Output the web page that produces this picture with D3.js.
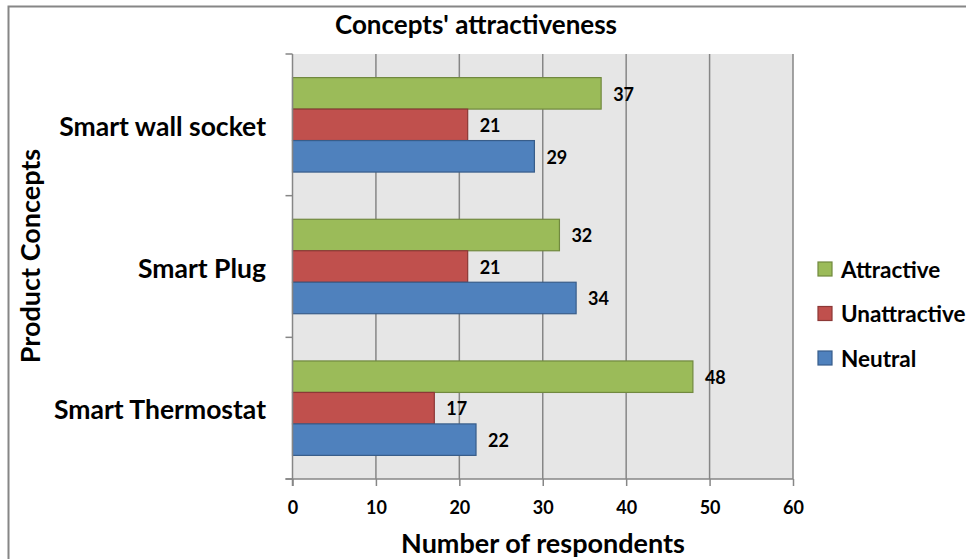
<!DOCTYPE html>
<html>
<head>
<meta charset="utf-8">
<script src="https://cdn.jsdelivr.net/npm/d3@7"></script>
<style>
  body { margin: 0; background: #fff; }
  svg text { font-family: Lato, "Open Sans", sans-serif; font-weight: 700; fill: #000; }
</style>
</head>
<body>
<svg id="chart" width="966" height="559"></svg>
<script>
// Survey results per product concept
const categories = ["Smart wall socket", "Smart Plug", "Smart Thermostat"];
const seriesNames = ["Attractive", "Unattractive", "Neutral"];
const attractive = [37, 32, 48];
const unattractive = [21, 21, 17];
const neutral = [29, 34, 22];
const xTicks = [0, 10, 20, 30, 40, 50, 60];

const fills = ["#9BBB59", "#C0504D", "#4F81BD"];
const strokes = ["#71893F", "#8C3836", "#385D8A"];
const seriesValues = [attractive, unattractive, neutral];

const svg = d3.select("#chart");

// outer chart frame
svg.append("rect")
  .attr("x", 8.5).attr("y", 6.5)
  .attr("width", 1000).attr("height", 600)
  .attr("fill", "none").attr("stroke", "#868686").attr("stroke-width", 2);

const plot = { left: 292.5, right: 793, top: 54, bottom: 479 };

const x = d3.scaleLinear().domain([0, 60]).range([plot.left, plot.right]);
const y = d3.scaleBand().domain(categories).range([plot.top, plot.bottom]);
const inner = d3.scaleBand().domain(seriesNames)
  .range([0, y.bandwidth()]).paddingOuter(0.75).paddingInner(0);

// plot background
svg.append("rect")
  .attr("x", plot.left).attr("y", plot.top)
  .attr("width", plot.right - plot.left).attr("height", plot.bottom - plot.top)
  .attr("fill", "#E6E6E6");

// vertical gridlines
svg.append("g").selectAll("line")
  .data(xTicks.filter(d => d > 0))
  .join("line")
  .attr("x1", d => x(d)).attr("x2", d => x(d))
  .attr("y1", plot.top).attr("y2", plot.bottom)
  .attr("stroke", "#868686").attr("stroke-width", 1.5);

// bars
const rows = [];
categories.forEach((c, i) => seriesNames.forEach((s, j) => {
  rows.push({ cat: c, series: s, value: seriesValues[j][i], j });
}));

svg.append("g").selectAll("rect")
  .data(rows)
  .join("rect")
  .attr("x", x(0))
  .attr("y", d => y(d.cat) + inner(d.series))
  .attr("width", d => x(d.value) - x(0))
  .attr("height", inner.bandwidth())
  .attr("fill", d => fills[d.j])
  .attr("stroke", d => strokes[d.j])
  .attr("stroke-width", 1.2);

// value labels
svg.append("g").selectAll("text")
  .data(rows)
  .join("text")
  .attr("x", d => x(d.value) + 12)
  .attr("y", d => y(d.cat) + inner(d.series) + inner.bandwidth() / 2 + 1)
  .attr("dy", "0.35em")
  .attr("font-size", 18)
  .text(d => d.value);

// x axis
const xAxis = svg.append("g")
  .attr("transform", `translate(0,${plot.bottom})`)
  .call(d3.axisBottom(x).tickValues(xTicks).tickSize(7).tickPadding(15));
xAxis.select(".domain").attr("stroke", "#868686").attr("stroke-width", 1.5)
  .attr("d", `M${plot.left - 7},0H${plot.right}`);
xAxis.selectAll(".tick line").attr("stroke", "#868686").attr("stroke-width", 1.5);
xAxis.selectAll(".tick text").attr("font-size", 18).attr("font-family", "Lato, sans-serif").attr("font-weight", 700).attr("fill", "#000");

// y axis
const yAxis = svg.append("g")
  .attr("transform", `translate(${plot.left},0)`);
yAxis.append("line")
  .attr("x1", 0).attr("x2", 0).attr("y1", plot.top).attr("y2", plot.bottom + 7)
  .attr("stroke", "#868686").attr("stroke-width", 1.5);
const bounds = categories.map(c => y(c)).concat([plot.bottom]);
yAxis.selectAll("line.tk")
  .data(bounds)
  .join("line").attr("class", "tk")
  .attr("x1", -7).attr("x2", 0)
  .attr("y1", d => d).attr("y2", d => d)
  .attr("stroke", "#868686").attr("stroke-width", 1.5);

svg.append("g").selectAll("text")
  .data(categories)
  .join("text")
  .attr("x", 266)
  .attr("y", d => y(d) + y.bandwidth() / 2 + 2)
  .attr("dy", "0.35em")
  .attr("text-anchor", "end")
  .attr("font-size", 26.5)
  .text(d => d);

// titles
svg.append("text")
  .attr("x", 476).attr("y", 25).attr("dy", "0.35em")
  .attr("text-anchor", "middle").attr("font-size", 26)
  .text("Concepts' attractiveness");

svg.append("text")
  .attr("x", 543).attr("y", 544).attr("dy", "0.35em")
  .attr("text-anchor", "middle").attr("font-size", 27)
  .text("Number of respondents");

svg.append("text")
  .attr("transform", "translate(31,256) rotate(-90)")
  .attr("dy", "0.35em")
  .attr("text-anchor", "middle").attr("font-size", 27)
  .text("Product Concepts");

// legend
const legend = svg.append("g").selectAll("g")
  .data(seriesNames)
  .join("g")
  .attr("transform", (d, i) => `translate(818,${262 + i * 44.5})`);
legend.append("rect")
  .attr("width", 14).attr("height", 14)
  .attr("fill", (d, i) => fills[i])
  .attr("stroke", (d, i) => strokes[i]).attr("stroke-width", 1.2);
legend.append("text")
  .attr("x", 23).attr("y", 8).attr("dy", "0.35em")
  .attr("font-size", 22.5)
  .text(d => d);
</script>
</body>
</html>
